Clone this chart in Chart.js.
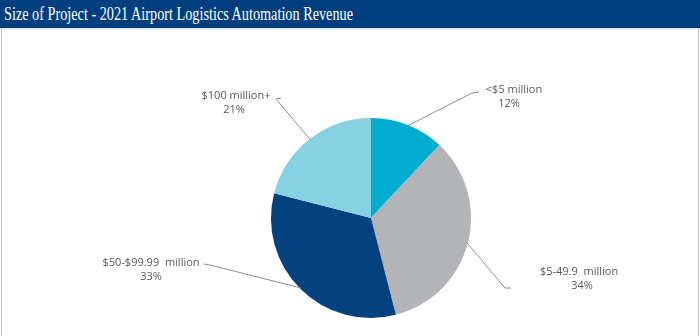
<!DOCTYPE html>
<html>
<head>
<meta charset="utf-8">
<script src="https://cdn.jsdelivr.net/npm/chart.js@4.4.1/dist/chart.umd.min.js"></script>
<style>
  html, body { margin: 0; padding: 0; background: #fff; }
  #wrap { position: relative; width: 700px; height: 336px; overflow: hidden; }
  #head { position: absolute; left: 0; top: 0; width: 700px; height: 28px; background: #003f7f;
          border-bottom: 1px solid #cfe0ee; }
  #title { position: absolute; left: 4px; top: 3px; color: #fff; font-family: "Liberation Serif", "DejaVu Serif", serif;
           font-size: 19px; white-space: nowrap; transform-origin: 0 0; }
  #frame { position: absolute; left: 1px; top: 29px; width: 696px; height: 310px;
           border-left: 1px solid #c4c4c4; border-right: 1px solid #c4c4c4; }
  #chart1 { position: absolute; left: 0; top: 0; }
</style>
</head>
<body>
<div id="wrap">
  <div id="head"><span id="title">Size of Project - 2021 Airport Logistics Automation Revenue</span></div>
  <div id="frame"></div>
  <canvas id="chart1" width="700" height="336"></canvas>
</div>
<script>
var categories = ["<$5 million", "$5-49.9  million", "$50-$99.99  million", "$100 million+"];
var shares = [12, 34, 33, 21];
var colors = ["#00acd0", "#b3b4b7", "#03417f", "#86d2e3"];

// where each label sits and where its leader line ends (canvas px)
var labelPos = [
    { tx: 514, ty: 90, px: 509, end: [472, 93], tick: [479, 92] },
    { tx: 579, ty: 272, px: 582, end: [505, 288], tick: [511, 288] },
    { tx: 151, ty: 263, px: 151, end: [210, 265], tick: [204, 264] },
    { tx: 236, ty: 96, px: 234, end: [276, 99], tick: [281, 98] }
];

// squeeze the title like the condensed serif in the original
(function () {
    var t = document.getElementById("title");
    var w = t.getBoundingClientRect().width;
    t.style.transform = "scaleX(" + (349 / w) + ")";
})();

var leaderLabels = {
    id: "leaderLabels",
    afterDraw: function (chart) {
        var ctx = chart.ctx;
        var arcs = chart.getDatasetMeta(0).data;
        ctx.save();
        arcs.forEach(function (arc, i) {
            var p = arc.getProps(["x", "y", "startAngle", "endAngle", "outerRadius"], true);
            var mid = (p.startAngle + p.endAngle) / 2;
            var sx = p.x + Math.cos(mid) * (p.outerRadius - 1);
            var sy = p.y + Math.sin(mid) * (p.outerRadius - 1);
            var lp = labelPos[i];
            ctx.strokeStyle = "#8e8e8e";
            ctx.lineWidth = 1;
            ctx.beginPath();
            ctx.moveTo(sx, sy);
            ctx.lineTo(lp.end[0], lp.end[1]);
            ctx.lineTo(lp.tick[0], lp.tick[1]);
            ctx.stroke();

            ctx.fillStyle = "#595959";
            ctx.font = "11px 'Open Sans', sans-serif";
            ctx.textAlign = "center";
            ctx.textBaseline = "middle";
            ctx.fillText(categories[i], lp.tx, lp.ty);
            ctx.fillText(shares[i] + "%", lp.px, lp.ty + 14);
        });
        ctx.restore();
    }
};

var ctx1 = document.getElementById("chart1").getContext("2d");
var chart1 = new Chart(ctx1, {
    type: "pie",
    data: {
        labels: categories,
        datasets: [{
            data: shares,
            backgroundColor: colors,
            borderWidth: 0
        }]
    },
    options: {
        responsive: false,
        maintainAspectRatio: false,
        animation: false,
        layout: { padding: { top: 118, bottom: 18, left: 271, right: 229 } },
        plugins: {
            legend: { display: false },
            tooltip: { enabled: false }
        }
    },
    plugins: [leaderLabels]
});
</script>
</body>
</html>
